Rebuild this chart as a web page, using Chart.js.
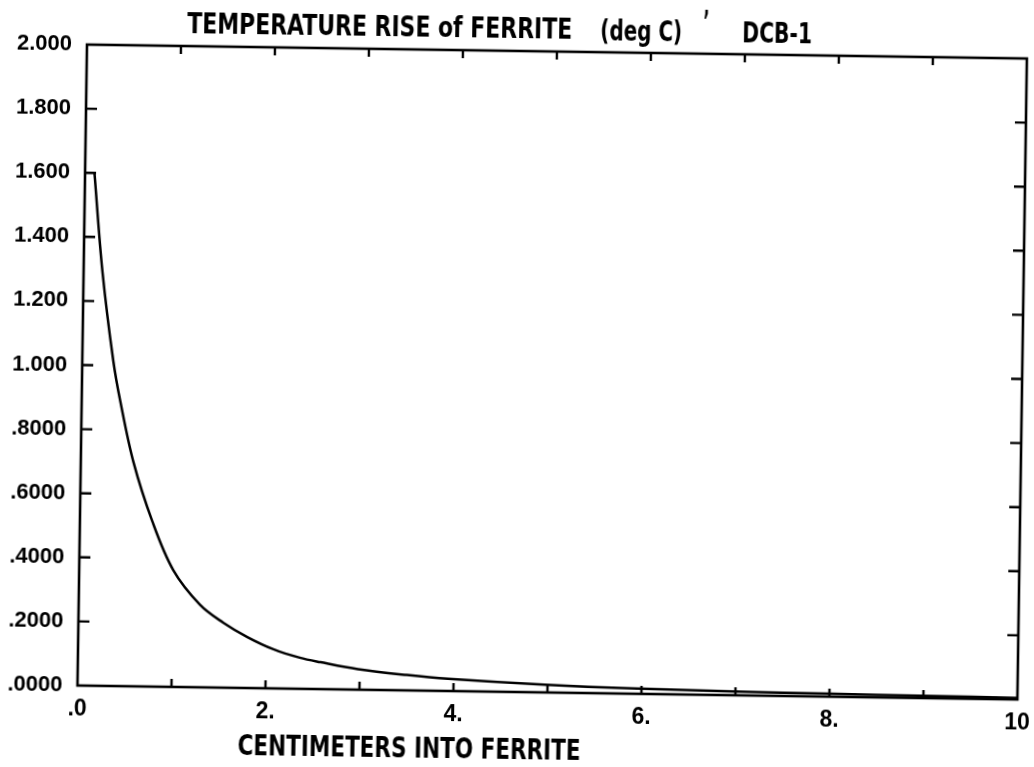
<!DOCTYPE html>
<html>
<head>
<meta charset="utf-8">
<script src="https://cdn.jsdelivr.net/npm/chart.js@4.4.1/dist/chart.umd.min.js"></script>
<style>
    html, body { margin: 0; padding: 0; background: #fff; overflow: hidden; }
    #moldura { width: 1034px; height: 767px; transform: rotate(0.85deg); transform-origin: 50% 50%; }
</style>
</head>
<body>
<div id="moldura"><canvas id="grafico" width="1034" height="767"></canvas></div>
<script>
// valores (cm x grau C)
const distanciaCm = [0.1, 0.2, 0.33, 0.41, 0.56, 0.77, 1.0, 1.29, 1.54, 1.8, 2.08, 2.36, 2.58, 2.98, 3.5, 3.94, 4.97, 5.96, 7.0, 8.0, 9.0, 10.0];
const subidaTemp = [1.6, 1.294, 1.014, 0.89, 0.70, 0.516, 0.365, 0.258, 0.203, 0.159, 0.122, 0.097, 0.084, 0.064, 0.048, 0.038, 0.024, 0.016, 0.012, 0.009, 0.007, 0.005];
const rotulosX = ['.0', '', '2.', '', '4.', '', '6.', '', '8.', '', '10'];
const rotulosY = ['.0000', '.2000', '.4000', '.6000', '.8000', '1.000', '1.200', '1.400', '1.600', '1.800', '2.000'];

const fonteTexto = '"Liberation Sans Narrow", "DejaVu Sans Condensed", "Liberation Sans", sans-serif';

function textoEstreito(ctx, texto, x, y, largura) {
    const w = ctx.measureText(texto).width;
    ctx.save();
    ctx.translate(x, y);
    ctx.scale(largura / w, 1);
    ctx.fillText(texto, 0, 0);
    ctx.restore();
}

const molduraPlugin = {
    id: 'molduraPlotter',
    afterDatasetsDraw(chart) {
        const ctx = chart.ctx;
        const area = chart.chartArea;
        const sx = chart.scales.x;
        const sy = chart.scales.y;
        ctx.save();
        ctx.strokeStyle = '#000';
        ctx.lineWidth = 2.6;
        ctx.strokeRect(area.left, area.top, area.right - area.left, area.bottom - area.top);

        // marcas para dentro
        ctx.lineWidth = 2.4;
        ctx.beginPath();
        sx.ticks.forEach(t => {
            if (t.value <= sx.min || t.value >= sx.max) return;
            const px = sx.getPixelForValue(t.value);
            ctx.moveTo(px, area.bottom); ctx.lineTo(px, area.bottom - 8);
            ctx.moveTo(px, area.top); ctx.lineTo(px, area.top + 8);
        });
        sy.ticks.forEach(t => {
            if (t.value <= sy.min || t.value >= sy.max) return;
            const py = sy.getPixelForValue(t.value);
            ctx.moveTo(area.left, py); ctx.lineTo(area.left + 11, py);
            ctx.moveTo(area.right, py); ctx.lineTo(area.right - 11, py);
        });
        ctx.stroke();

        // titulos
        ctx.fillStyle = '#000';
        ctx.textBaseline = 'alphabetic';
        ctx.textAlign = 'left';
        ctx.font = 'bold 29px ' + fonteTexto;
        textoEstreito(ctx, 'TEMPERATURE RISE of FERRITE', 182, 38, 385);
        textoEstreito(ctx, '(deg C)', 595, 39, 82);
        textoEstreito(ctx, '’', 698, 28, 6);
        textoEstreito(ctx, 'DCB-1', 737, 39, 70);
        textoEstreito(ctx, 'CENTIMETERS INTO FERRITE', 243, 759, 343);
        ctx.restore();
    }
};

new Chart(document.getElementById('grafico'), {
    type: 'scatter',
    data: {
        datasets: [{
            data: distanciaCm.map((x, i) => ({ x: x, y: subidaTemp[i] })),
            showLine: true,
            borderColor: '#000',
            borderWidth: 2.5,
            pointRadius: 0,
            tension: 0.35,
            fill: false
        }]
    },
    options: {
        responsive: false,
        animation: false,
        devicePixelRatio: 1,
        layout: { padding: { left: 0, right: 12, top: 51, bottom: 0 } },
        plugins: {
            legend: { display: false },
            tooltip: { enabled: false },
            title: { display: false }
        },
        scales: {
            x: {
                type: 'linear',
                min: 0,
                max: 10,
                grid: { display: false, drawTicks: false },
                border: { display: false },
                afterFit: scale => {
                    scale.height = 75;
                    scale.paddingRight = 0;
                    scale.paddingLeft = 0;
                },
                ticks: {
                    stepSize: 1,
                    autoSkip: false,
                    maxRotation: 0,
                    padding: 10,
                    color: '#000',
                    font: { family: '"Liberation Sans", sans-serif', size: 23, weight: 'bold' },
                    callback: (v, i) => rotulosX[i]
                }
            },
            y: {
                type: 'linear',
                min: 0,
                max: 2,
                grid: { display: false, drawTicks: false },
                border: { display: false },
                afterFit: scale => { scale.width = 82; },
                ticks: {
                    stepSize: 0.2,
                    autoSkip: false,
                    padding: 15,
                    color: '#000',
                    font: { family: '"Liberation Sans", sans-serif', size: 22, weight: 'bold' },
                    callback: (v, i) => rotulosY[i]
                }
            }
        }
    },
    plugins: [molduraPlugin]
});
</script>
</body>
</html>
